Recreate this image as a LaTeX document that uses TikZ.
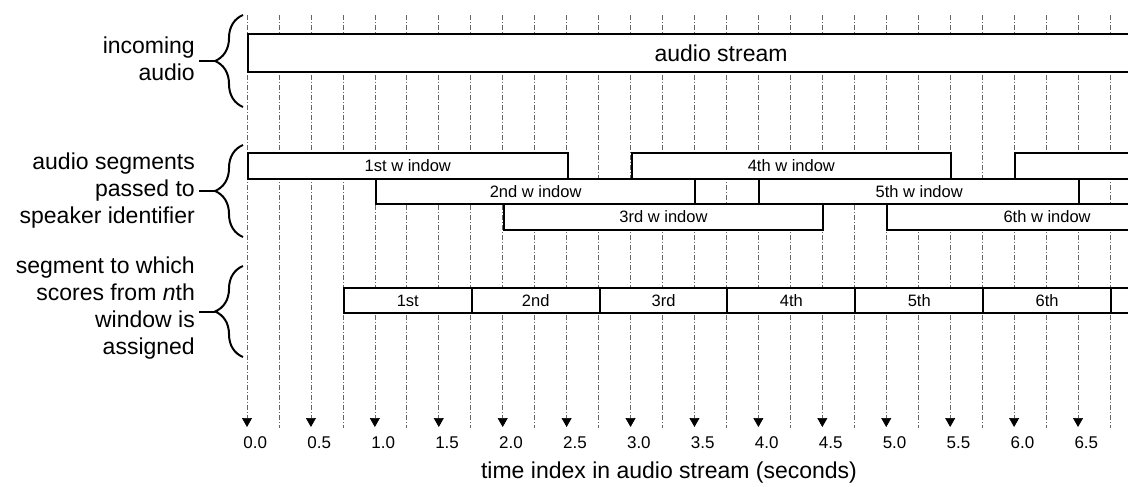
\documentclass[tikz,border=0pt]{standalone}
\usepackage{fontspec}
\setmainfont{Liberation Sans}
\usetikzlibrary{arrows.meta,decorations.pathreplacing}

\newcommand{\tsec}{127.85pt}

\tikzset{
  gridline/.style={black!60, line width=0.7pt, dash pattern=on 5pt off 2pt on 1pt off 2pt},
  tbox/.style={draw, fill=white, line width=2pt, inner sep=0pt, anchor=north west},
  winbox/.style={tbox, minimum width=2.5*\tsec, minimum height=25.5pt, font=\fontsize{16.5}{19}\selectfont},
  segbox/.style={tbox, minimum width=\tsec, minimum height=25pt, font=\fontsize{16.5}{19}\selectfont},
  biglabel/.style={font=\fontsize{23}{27}\selectfont, align=right, anchor=east, inner sep=0pt},
  lbrace/.style={decorate, decoration={brace, amplitude=28pt}, line width=2pt},
}

\begin{document}
\begin{tikzpicture}[x=1pt, y=-1pt]
  \useasboundingbox (0,0) rectangle (1128,487);
  \clip (0,0) rectangle (1128,487);
  % Time grid
  \begin{scope}[shift={(247,0)}, x=\tsec]
    \foreach \t in {0.25,0.75,...,6.75}
      \draw[gridline] (\t,15) -- (\t,428);
    \foreach \t [count=\i] in {0,0.5,...,6.5} {
      \coordinate (top\i) at (\t,15);
      \coordinate (end\i) at (\t,427);
      \draw[gridline, -{Triangle[width=10pt, length=9pt, color=black, fill=black]}] (top\i) -- (end\i);
      \node[font=\fontsize{17}{20}\selectfont] (tick\i) at (\t+0.065,443)
        {\pgfmathprintnumber[fixed, fixed zerofill, precision=1, assume math mode=true]{\t}};
    }
    % Stream
    \node[tbox, minimum width=7.4*\tsec, minimum height=38pt,
      font=\fontsize{23}{27}\selectfont] (stream) at (0,33) {audio stream};
    % Windows
    \foreach \n/\s/\y/\lab in {1/0/152/1st, 2/1/177.5/2nd, 3/2/203/3rd,
        4/3/152/4th, 5/4/177.5/5th, 6/5/203/6th}
      \node[winbox] (win\n) at (\s,\y) {\lab\ w indow};
    \node[winbox] (win7) at (6,152) {};
    % Segments
    \foreach \n/\lab in {1/1st, 2/2nd, 3/3rd, 4/4th, 5/5th, 6/6th}
      \node[segbox] (seg\n) at (\n-0.25,287) {\lab};
    \node[segbox] (seg7) at (6.75,287) {};
  \end{scope}
  % Labels
  \node[biglabel] (inaudio) at (195,59) {incoming\\audio};
  \node[biglabel] (segaudio) at (195,191) {audio segments\\passed to\\speaker identifier};
  \node[biglabel] (assigned) at (195,308) {segment to which\\scores from \textit{n}th\\window is\\assigned};
  % Braces
  \draw[lbrace] (243,107) -- (243,15);
  \draw[lbrace] (243,237) -- (243,145);
  \draw[lbrace] (243,357) -- (243,266);
  \coordinate (tip1) at (215,61);
  \coordinate (tip2) at (215,191);
  \coordinate (tip3) at (215,311.5);
  \draw[line width=2pt] ([xshift=4pt]inaudio.east |- tip1) -- (tip1);
  \draw[line width=2pt] ([xshift=4pt]segaudio.east |- tip2) -- (tip2);
  \draw[line width=2pt] ([xshift=4pt]assigned.east |- tip3) -- (tip3);
  % Axis label
  \node[font=\fontsize{23}{27}\selectfont] (axislabel) at (669,473)
    {time index in audio stream (seconds)};
\end{tikzpicture}
\end{document}
